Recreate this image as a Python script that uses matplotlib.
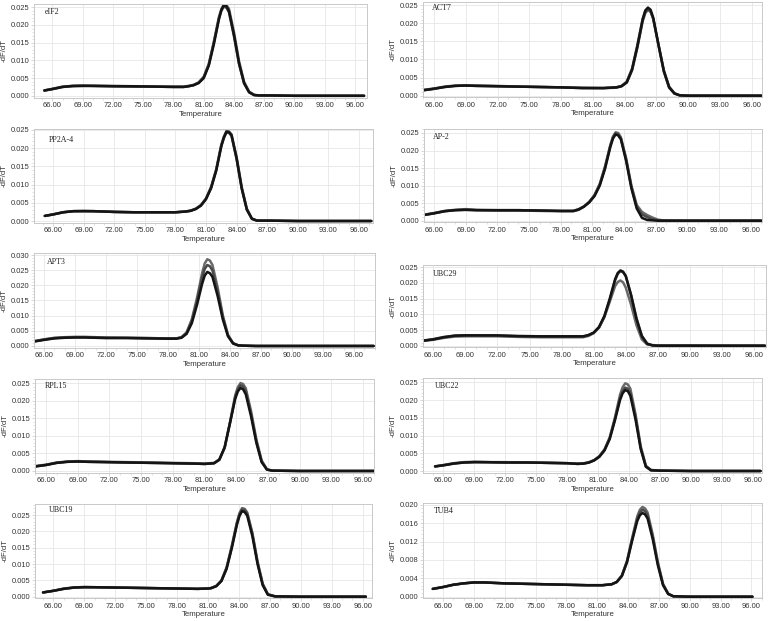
import matplotlib
matplotlib.use("Agg")
import matplotlib.pyplot as plt
from matplotlib.ticker import FormatStrFormatter, MultipleLocator

# ---------------- data ----------------
genes = ["eIF2", "ACT7", "PP2A-4", "AP-2", "APT3", "UBC29", "RPL15", "UBC22", "UBC19", "TUB4"]

eif2_temp = [65.2, 66, 67, 68, 69, 70, 72, 74, 76, 78, 79, 79.5, 80, 80.5, 81, 81.5, 82, 82.5, 82.75, 83, 83.25, 83.5, 84, 84.5, 85, 85.5, 86, 86.5, 87.5, 90, 93, 96.9]
eif2_rep1 = [0.0015, 0.0020, 0.0026, 0.0028, 0.0029, 0.0028, 0.0028, 0.0027, 0.0026, 0.0026, 0.0026, 0.0028, 0.0031, 0.0038, 0.0054, 0.0090, 0.0152, 0.0222, 0.0245, 0.0258, 0.0256, 0.0246, 0.0180, 0.0098, 0.0040, 0.0012, 0.0003, 0.0001, 0.0001, 0.0, 0.0, 0.0]
eif2_rep2 = [0.0015, 0.0019, 0.0025, 0.0027, 0.0028, 0.0028, 0.0027, 0.0026, 0.0026, 0.0025, 0.0025, 0.0027, 0.0030, 0.0037, 0.0052, 0.0088, 0.0150, 0.0218, 0.0240, 0.0252, 0.0249, 0.0236, 0.0168, 0.0090, 0.0035, 0.0010, 0.0002, 0.0001, 0.0001, 0.0, 0.0, 0.0]
eif2_rep3 = [0.0015, 0.0019, 0.0025, 0.0028, 0.0028, 0.0028, 0.0027, 0.0027, 0.0026, 0.0025, 0.0025, 0.0027, 0.0030, 0.0036, 0.0050, 0.0085, 0.0145, 0.0215, 0.0243, 0.0256, 0.0253, 0.0240, 0.0172, 0.0092, 0.0036, 0.0010, 0.0002, 0.0001, 0.0001, 0.0, 0.0, 0.0]

act7_temp = [65.0, 66, 67, 68, 69, 70, 72, 74, 76, 78, 80, 82, 83.2, 83.7, 84.2, 84.7, 85.2, 85.7, 85.95, 86.2, 86.45, 86.7, 87.2, 87.7, 88.2, 88.7, 89.2, 90, 93, 96.9]
act7_rep1 = [0.0016, 0.0020, 0.0025, 0.0028, 0.0028, 0.0028, 0.0027, 0.0025, 0.0024, 0.0023, 0.0022, 0.0021, 0.0023, 0.0027, 0.0039, 0.0075, 0.0140, 0.0212, 0.0233, 0.0240, 0.0233, 0.0212, 0.0138, 0.0066, 0.0022, 0.0006, 0.0001, 0.0, 0.0, 0.0]
act7_rep2 = [0.0015, 0.0019, 0.0024, 0.0027, 0.0028, 0.0027, 0.0026, 0.0025, 0.0024, 0.0023, 0.0021, 0.0021, 0.0022, 0.0026, 0.0036, 0.0070, 0.0132, 0.0205, 0.0228, 0.0237, 0.0231, 0.0212, 0.0140, 0.0070, 0.0025, 0.0007, 0.0001, 0.0, 0.0, 0.0]
act7_rep3 = [0.0015, 0.0019, 0.0024, 0.0027, 0.0028, 0.0027, 0.0026, 0.0025, 0.0024, 0.0023, 0.0021, 0.0021, 0.0023, 0.0026, 0.0037, 0.0072, 0.0136, 0.0210, 0.0235, 0.0243, 0.0237, 0.0215, 0.0140, 0.0068, 0.0023, 0.0006, 0.0001, 0.0, 0.0, 0.0]

pp2a_temp = [65.2, 66, 67, 68, 69, 70, 72, 74, 76, 78, 79, 79.5, 80, 80.5, 81, 81.5, 82, 82.5, 82.75, 83, 83.25, 83.5, 84, 84.5, 85, 85.5, 86, 87.2, 90, 93, 97.2]
pp2a_rep1 = [0.0014, 0.0018, 0.0024, 0.0027, 0.0028, 0.0027, 0.0025, 0.0024, 0.0024, 0.0024, 0.0026, 0.0029, 0.0034, 0.0044, 0.0062, 0.0094, 0.0142, 0.0210, 0.0232, 0.0247, 0.0246, 0.0238, 0.0176, 0.0094, 0.0034, 0.0007, 0.0001, 0.0001, 0.0, 0.0, 0.0]
pp2a_rep2 = [0.0014, 0.0018, 0.0024, 0.0027, 0.0027, 0.0027, 0.0025, 0.0024, 0.0024, 0.0024, 0.0026, 0.0028, 0.0033, 0.0043, 0.0061, 0.0092, 0.0140, 0.0207, 0.0228, 0.0243, 0.0242, 0.0234, 0.0170, 0.0089, 0.0031, 0.0006, 0.0001, 0.0001, 0.0, 0.0, 0.0]
pp2a_rep3 = [0.0014, 0.0018, 0.0024, 0.0027, 0.0027, 0.0027, 0.0025, 0.0024, 0.0024, 0.0024, 0.0026, 0.0028, 0.0033, 0.0042, 0.0060, 0.0090, 0.0138, 0.0205, 0.0229, 0.0245, 0.0244, 0.0236, 0.0172, 0.0090, 0.0032, 0.0006, 0.0001, 0.0001, 0.0, 0.0, 0.0]

ap2_temp = [65.0, 66, 67, 68, 69, 70, 72, 74, 76, 78, 79.2, 79.7, 80.2, 80.7, 81.2, 81.7, 82.2, 82.7, 82.95, 83.2, 83.45, 83.7, 84.2, 84.7, 85.2, 85.7, 86.2, 86.7, 87.2, 87.7, 90, 93, 97.0]
ap2_rep1 = [0.0017, 0.0022, 0.0028, 0.0031, 0.0033, 0.0031, 0.0030, 0.0030, 0.0029, 0.0028, 0.0028, 0.0033, 0.0041, 0.0054, 0.0073, 0.0105, 0.0155, 0.0216, 0.0240, 0.0252, 0.0250, 0.0238, 0.0178, 0.0100, 0.0045, 0.0025, 0.0016, 0.0009, 0.0003, 0.0001, 0.0, 0.0, 0.0]
ap2_rep2 = [0.0016, 0.0021, 0.0027, 0.0030, 0.0031, 0.0030, 0.0029, 0.0029, 0.0028, 0.0027, 0.0027, 0.0031, 0.0040, 0.0053, 0.0072, 0.0103, 0.0152, 0.0213, 0.0237, 0.0249, 0.0246, 0.0235, 0.0174, 0.0096, 0.0040, 0.0018, 0.0010, 0.0004, 0.0001, 0.0, 0.0, 0.0, 0.0]
ap2_rep3 = [0.0016, 0.0021, 0.0027, 0.0030, 0.0031, 0.0030, 0.0030, 0.0030, 0.0029, 0.0028, 0.0028, 0.0032, 0.0040, 0.0052, 0.0070, 0.0100, 0.0148, 0.0210, 0.0234, 0.0246, 0.0243, 0.0232, 0.0170, 0.0092, 0.0035, 0.0008, 0.0002, 0.0001, 0.0, 0.0, 0.0, 0.0, 0.0]

apt3_temp = [65.1, 66, 67, 68, 69, 70, 72, 74, 76, 78, 78.8, 79.3, 79.8, 80.3, 80.8, 81.3, 81.55, 81.8, 82.05, 82.3, 82.8, 83.3, 83.8, 84.3, 84.8, 85.3, 86.5, 90, 93, 97.9]
apt3_rep1 = [0.0016, 0.0022, 0.0027, 0.0029, 0.0030, 0.0030, 0.0028, 0.0027, 0.0026, 0.0025, 0.0025, 0.0029, 0.0045, 0.0088, 0.0158, 0.0240, 0.0272, 0.0286, 0.0282, 0.0267, 0.0193, 0.0102, 0.0037, 0.0009, 0.0002, 0.0001, 0.0, 0.0, 0.0, 0.0]
apt3_rep2 = [0.0016, 0.0021, 0.0026, 0.0028, 0.0029, 0.0029, 0.0027, 0.0027, 0.0026, 0.0025, 0.0025, 0.0028, 0.0043, 0.0082, 0.0148, 0.0225, 0.0254, 0.0267, 0.0263, 0.0249, 0.0180, 0.0095, 0.0035, 0.0009, 0.0002, 0.0001, 0.0, 0.0, 0.0, 0.0]
apt3_rep3 = [0.0015, 0.0020, 0.0025, 0.0027, 0.0028, 0.0028, 0.0026, 0.0026, 0.0025, 0.0024, 0.0024, 0.0027, 0.0040, 0.0075, 0.0135, 0.0205, 0.0232, 0.0244, 0.0240, 0.0228, 0.0165, 0.0088, 0.0032, 0.0008, 0.0002, 0.0001, 0.0, 0.0, 0.0, 0.0]

ubc29_temp = [65.0, 66, 67, 68, 69, 70, 72, 74, 76, 78, 80, 80.5, 81, 81.5, 82, 82.5, 83, 83.25, 83.5, 83.75, 84, 84.5, 85, 85.5, 86, 86.5, 87, 90, 93, 97.0]
ubc29_rep1 = [0.0015, 0.0019, 0.0025, 0.0029, 0.0030, 0.0030, 0.0030, 0.0028, 0.0027, 0.0027, 0.0027, 0.0031, 0.0040, 0.0058, 0.0092, 0.0140, 0.0190, 0.0203, 0.0208, 0.0202, 0.0185, 0.0130, 0.0065, 0.0020, 0.0004, 0.0002, 0.0001, 0.0001, 0.0, 0.0]
ubc29_rep2 = [0.0016, 0.0021, 0.0028, 0.0032, 0.0033, 0.0033, 0.0032, 0.0030, 0.0029, 0.0029, 0.0029, 0.0033, 0.0041, 0.0058, 0.0092, 0.0146, 0.0208, 0.0229, 0.0238, 0.0234, 0.0222, 0.0162, 0.0088, 0.0032, 0.0007, 0.0001, 0.0, 0.0, 0.0, 0.0]
ubc29_rep3 = [0.0016, 0.0020, 0.0027, 0.0032, 0.0033, 0.0033, 0.0033, 0.0031, 0.0030, 0.0030, 0.0030, 0.0034, 0.0042, 0.0060, 0.0095, 0.0150, 0.0212, 0.0232, 0.0240, 0.0236, 0.0222, 0.0160, 0.0085, 0.0030, 0.0006, 0.0001, 0.0, 0.0, 0.0, 0.0]

rpl15_temp = [65.0, 66, 67, 68, 69, 70, 72, 74, 76, 78, 80, 81, 81.9, 82.4, 82.9, 83.4, 83.9, 84.15, 84.4, 84.65, 84.9, 85.4, 85.9, 86.4, 86.9, 87.4, 90, 93, 97.5]
rpl15_rep1 = [0.0014, 0.0018, 0.0024, 0.0027, 0.0028, 0.0027, 0.0026, 0.0025, 0.0024, 0.0023, 0.0022, 0.0021, 0.0023, 0.0033, 0.0065, 0.0138, 0.0215, 0.0238, 0.0250, 0.0247, 0.0235, 0.0170, 0.0090, 0.0030, 0.0005, 0.0001, 0.0, 0.0, 0.0]
rpl15_rep2 = [0.0013, 0.0017, 0.0023, 0.0026, 0.0027, 0.0026, 0.0025, 0.0024, 0.0023, 0.0022, 0.0021, 0.0020, 0.0022, 0.0032, 0.0066, 0.0136, 0.0210, 0.0233, 0.0244, 0.0240, 0.0227, 0.0162, 0.0085, 0.0027, 0.0004, 0.0001, 0.0, 0.0, 0.0]
rpl15_rep3 = [0.0013, 0.0017, 0.0023, 0.0026, 0.0027, 0.0026, 0.0025, 0.0024, 0.0023, 0.0022, 0.0021, 0.0020, 0.0022, 0.0032, 0.0068, 0.0135, 0.0205, 0.0226, 0.0236, 0.0232, 0.0218, 0.0155, 0.0080, 0.0025, 0.0004, 0.0001, 0.0, 0.0, 0.0]

ubc22_temp = [65.2, 66, 67, 68, 69, 70, 72, 74, 76, 78, 79, 79.6, 80.1, 80.6, 81.1, 81.6, 82.1, 82.6, 83.1, 83.35, 83.6, 83.85, 84.1, 84.6, 85.1, 85.6, 86.1, 87, 90, 93, 96.7]
ubc22_rep1 = [0.0013, 0.0017, 0.0022, 0.0025, 0.0026, 0.0025, 0.0025, 0.0024, 0.0023, 0.0022, 0.0021, 0.0022, 0.0025, 0.0031, 0.0042, 0.0061, 0.0095, 0.0150, 0.0215, 0.0236, 0.0247, 0.0244, 0.0232, 0.0160, 0.0070, 0.0015, 0.0003, 0.0001, 0.0, 0.0, 0.0]
ubc22_rep2 = [0.0013, 0.0016, 0.0021, 0.0024, 0.0025, 0.0025, 0.0024, 0.0024, 0.0023, 0.0022, 0.0020, 0.0021, 0.0024, 0.0030, 0.0041, 0.0060, 0.0092, 0.0146, 0.0206, 0.0225, 0.0235, 0.0232, 0.0220, 0.0152, 0.0066, 0.0013, 0.0002, 0.0001, 0.0, 0.0, 0.0]
ubc22_rep3 = [0.0013, 0.0016, 0.0021, 0.0024, 0.0025, 0.0025, 0.0024, 0.0024, 0.0023, 0.0022, 0.0020, 0.0021, 0.0024, 0.0030, 0.0040, 0.0058, 0.0090, 0.0142, 0.0200, 0.0219, 0.0228, 0.0225, 0.0212, 0.0145, 0.0062, 0.0012, 0.0002, 0.0001, 0.0, 0.0, 0.0]

ubc19_temp = [65.0, 66, 67, 68, 69, 70, 72, 74, 76, 78, 80, 81, 81.3, 81.8, 82.3, 82.8, 83.3, 83.8, 84.05, 84.3, 84.55, 84.8, 85.3, 85.8, 86.3, 86.8, 87.5, 90, 93, 96.3]
ubc19_rep1 = [0.0013, 0.0018, 0.0025, 0.0028, 0.0030, 0.0029, 0.0028, 0.0027, 0.0026, 0.0025, 0.0024, 0.0025, 0.0027, 0.0033, 0.0050, 0.0090, 0.0155, 0.0228, 0.0256, 0.0271, 0.0269, 0.0258, 0.0195, 0.0108, 0.0040, 0.0008, 0.0001, 0.0, 0.0, 0.0]
ubc19_rep2 = [0.0013, 0.0018, 0.0024, 0.0028, 0.0029, 0.0029, 0.0028, 0.0027, 0.0026, 0.0025, 0.0024, 0.0025, 0.0026, 0.0033, 0.0049, 0.0088, 0.0152, 0.0225, 0.0252, 0.0267, 0.0265, 0.0254, 0.0192, 0.0105, 0.0038, 0.0007, 0.0001, 0.0, 0.0, 0.0]
ubc19_rep3 = [0.0013, 0.0018, 0.0024, 0.0028, 0.0029, 0.0029, 0.0028, 0.0027, 0.0026, 0.0025, 0.0024, 0.0025, 0.0026, 0.0032, 0.0048, 0.0085, 0.0148, 0.0220, 0.0247, 0.0262, 0.0259, 0.0248, 0.0185, 0.0100, 0.0035, 0.0006, 0.0001, 0.0, 0.0, 0.0]

tub4_temp = [65.0, 66, 67, 68, 69, 70, 72, 74, 76, 78, 80, 81.5, 82.4, 82.9, 83.4, 83.9, 84.4, 84.9, 85.15, 85.4, 85.65, 85.9, 86.4, 86.9, 87.4, 87.9, 88.4, 90, 93, 96.1]
tub4_rep1 = [0.0017, 0.0021, 0.0026, 0.0029, 0.0031, 0.0031, 0.0029, 0.0028, 0.0027, 0.0026, 0.0025, 0.0025, 0.0027, 0.0032, 0.0046, 0.0078, 0.0128, 0.0175, 0.0189, 0.0195, 0.0192, 0.0183, 0.0135, 0.0075, 0.0028, 0.0007, 0.0001, 0.0, 0.0, 0.0]
tub4_rep2 = [0.0017, 0.0021, 0.0026, 0.0029, 0.0031, 0.0031, 0.0029, 0.0028, 0.0027, 0.0026, 0.0025, 0.0025, 0.0027, 0.0032, 0.0046, 0.0077, 0.0125, 0.0170, 0.0183, 0.0189, 0.0186, 0.0177, 0.0130, 0.0072, 0.0027, 0.0006, 0.0001, 0.0, 0.0, 0.0]
tub4_rep3 = [0.0017, 0.0021, 0.0026, 0.0029, 0.0031, 0.0031, 0.0029, 0.0028, 0.0027, 0.0026, 0.0025, 0.0025, 0.0027, 0.0032, 0.0045, 0.0075, 0.0122, 0.0165, 0.0177, 0.0182, 0.0179, 0.0170, 0.0125, 0.0068, 0.0025, 0.0006, 0.0001, 0.0, 0.0, 0.0]

temps = [eif2_temp, act7_temp, pp2a_temp, ap2_temp, apt3_temp, ubc29_temp, rpl15_temp, ubc22_temp, ubc19_temp, tub4_temp]
reps = [
    [eif2_rep1, eif2_rep2, eif2_rep3],
    [act7_rep1, act7_rep2, act7_rep3],
    [pp2a_rep1, pp2a_rep2, pp2a_rep3],
    [ap2_rep1, ap2_rep2, ap2_rep3],
    [apt3_rep1, apt3_rep2, apt3_rep3],
    [ubc29_rep1, ubc29_rep2, ubc29_rep3],
    [rpl15_rep1, rpl15_rep2, rpl15_rep3],
    [ubc22_rep1, ubc22_rep2, ubc22_rep3],
    [ubc19_rep1, ubc19_rep2, ubc19_rep3],
    [tub4_rep1, tub4_rep2, tub4_rep3],
]
x_ticks = [66, 69, 72, 75, 78, 81, 84, 87, 90, 93, 96]
y_tick_max = [0.025, 0.025, 0.025, 0.025, 0.030, 0.025, 0.025, 0.025, 0.025, 0.020]
y_tick_step = [0.005, 0.005, 0.005, 0.005, 0.005, 0.005, 0.005, 0.005, 0.005, 0.004]

# ---------------- layout (pixels) ----------------
W, H = 777, 621
rects_px = [  # left, top, right, bottom
    (34, 4, 367, 97.5), (423, 2, 762, 97),
    (34, 129, 373, 222.5), (424, 129, 762, 222),
    (34, 253, 375, 347.5), (423, 265, 766, 347),
    (35, 379, 374, 472.5), (423, 378, 762, 472.5),
    (35, 504, 372, 598), (423, 503, 762, 598),
]
xlims = [(64.17, 97.19), (64.96, 96.97), (64.14, 97.37), (65.05, 97.07), (65.03, 98.03),
         (65.04, 97.11), (64.96, 97.03), (64.03, 96.84), (64.22, 96.9), (64.05, 97.03)]
ylims = [(-0.00048, 0.02593), (-0.00036, 0.02583), (-0.00041, 0.02527), (-0.00037, 0.02614),
         (-0.0005, 0.03066), (-0.00041, 0.02573), (-0.00043, 0.02614), (-0.00042, 0.02621),
         (-0.0004, 0.02837), (-0.00028, 0.02037)]
label_off = [(11, -8), (9, -6), (15, -11), (9, -8), (13, -9), (10, -9), (10, -7), (12, -8), (14, -6), (11, -8)]

line_colors = ["#6a6a6a", "#4a4a4a", "#141414"]
grid_c = "#e6e6e6"
spine_c = "#c9c9c9"

fig = plt.figure(figsize=(W / 100, H / 100), dpi=100)
fig.patch.set_facecolor("white")

for i, gene in enumerate(genes):
    L, T, R, B = rects_px[i]
    ax = fig.add_axes([L / W, 1 - B / H, (R - L) / W, (B - T) / H])
    for rep, col in zip(reps[i], line_colors):
        ax.plot(temps[i], rep, color=col, lw=1.8, solid_capstyle="round", solid_joinstyle="round")
    ax.set_xlim(*xlims[i])
    ax.set_ylim(*ylims[i])
    ax.set_xticks(x_ticks)
    n = int(round(y_tick_max[i] / y_tick_step[i]))
    ax.set_yticks([k * y_tick_step[i] for k in range(n + 1)])
    ax.xaxis.set_major_formatter(FormatStrFormatter("%.2f"))
    ax.yaxis.set_major_formatter(FormatStrFormatter("%.3f"))
    ax.xaxis.set_minor_locator(MultipleLocator(1))
    ax.yaxis.set_minor_locator(MultipleLocator(y_tick_step[i] / 5))
    ax.grid(True, which="major", color=grid_c, lw=0.6)
    ax.set_axisbelow(True)
    for s in ax.spines.values():
        s.set_color(spine_c)
        s.set_linewidth(0.7)
    ax.tick_params(which="major", length=2, width=0.5, color=spine_c, labelsize=5.4,
                   labelcolor="#333333", pad=1.5)
    ax.tick_params(which="minor", length=1.2, width=0.4, color=spine_c)
    for lab in ax.get_xticklabels() + ax.get_yticklabels():
        lab.set_fontfamily("Liberation Sans")
    ax.set_xlabel("Temperature", fontsize=5.6, family="Liberation Sans", color="#333333", labelpad=1)
    ax.set_ylabel("-dF/dT", fontsize=5.6, family="Liberation Sans", color="#333333", labelpad=2)
    dx, dy = label_off[i]
    ax.annotate(gene, xy=(0, 1), xycoords="axes fraction", xytext=(dx, dy),
                textcoords="offset pixels", ha="left", va="center",
                fontsize=5.8, family="Liberation Serif", color="#222222")

fig.savefig("out.png", dpi=100)
